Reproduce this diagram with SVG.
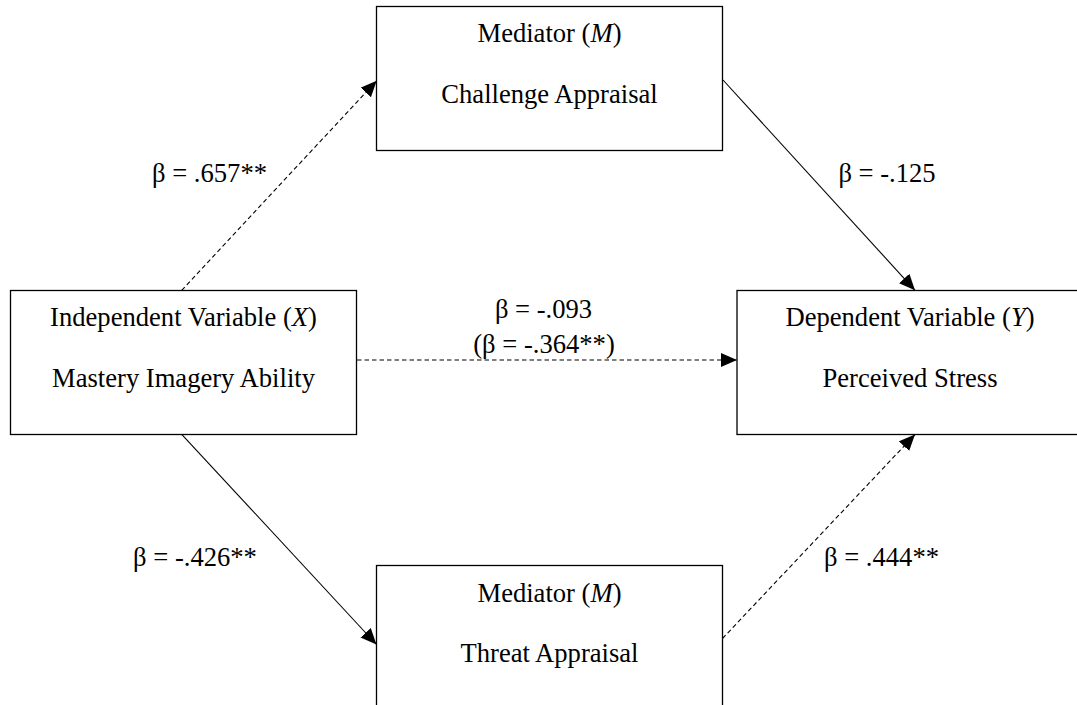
<svg xmlns="http://www.w3.org/2000/svg" width="1077" height="705" viewBox="0 0 1077 705">
<style>
.box{fill:#fff;stroke:#000;stroke-width:1.3}
.t{font-family:"Liberation Serif","Times New Roman",serif;font-size:26.6px;fill:#000;text-anchor:middle}
.i{font-style:italic}
.c{stroke:#000;stroke-width:1.1;fill:none}
.d{stroke-dasharray:4.5,3}
</style>
<defs>
<marker id="ah" markerUnits="userSpaceOnUse" markerWidth="17" markerHeight="15" refX="16" refY="7" orient="auto">
<path d="M0,0 L16,7 L0,14 z" fill="#000"/>
</marker>
</defs>
<rect width="1077" height="705" fill="#fff"/>
<g id="connectors">
<line class="c d" x1="181.7" y1="290.3" x2="376.7" y2="80.7" marker-end="url(#ah)"/>
<line class="c" x1="723" y1="80" x2="915" y2="290.3" marker-end="url(#ah)"/>
<line class="c d" x1="357" y1="360" x2="737" y2="360" marker-end="url(#ah)"/>
<line class="c" x1="181.7" y1="434.3" x2="376.5" y2="644.5" marker-end="url(#ah)"/>
<line class="c d" x1="722.5" y1="638.5" x2="915" y2="434.5" marker-end="url(#ah)"/>
</g>
<g id="node-mediator-challenge">
<rect class="box" x="376.5" y="6.5" width="346" height="144"/>
<text class="t" x="549.5" y="42">Mediator (<tspan class="i">M</tspan>)</text>
<text class="t" x="549.5" y="103">Challenge Appraisal</text>
</g>
<g id="node-independent">
<rect class="box" x="10.5" y="290.5" width="346" height="144"/>
<text class="t" x="183.5" y="326">Independent Variable (<tspan class="i">X</tspan>)</text>
<text class="t" x="183.5" y="387">Mastery Imagery Ability</text>
</g>
<g id="node-dependent">
<rect class="box" x="737" y="290.5" width="346" height="144"/>
<text class="t" x="910" y="326">Dependent Variable (<tspan class="i">Y</tspan>)</text>
<text class="t" x="910" y="387">Perceived Stress</text>
</g>
<g id="node-mediator-threat">
<rect class="box" x="376.5" y="565.5" width="346" height="144"/>
<text class="t" x="549.5" y="601.5">Mediator (<tspan class="i">M</tspan>)</text>
<text class="t" x="549.5" y="662">Threat Appraisal</text>
</g>
<g id="labels">
<text class="t" x="209.5" y="182">β = .657**</text>
<text class="t" x="887" y="182">β = -.125</text>
<text class="t" x="543.5" y="318">β = -.093</text>
<text class="t" x="544" y="352.5">(β = -.364**)</text>
<text class="t" x="195" y="566">β = -.426**</text>
<text class="t" x="881.5" y="566">β = .444**</text>
</g>
</svg>
